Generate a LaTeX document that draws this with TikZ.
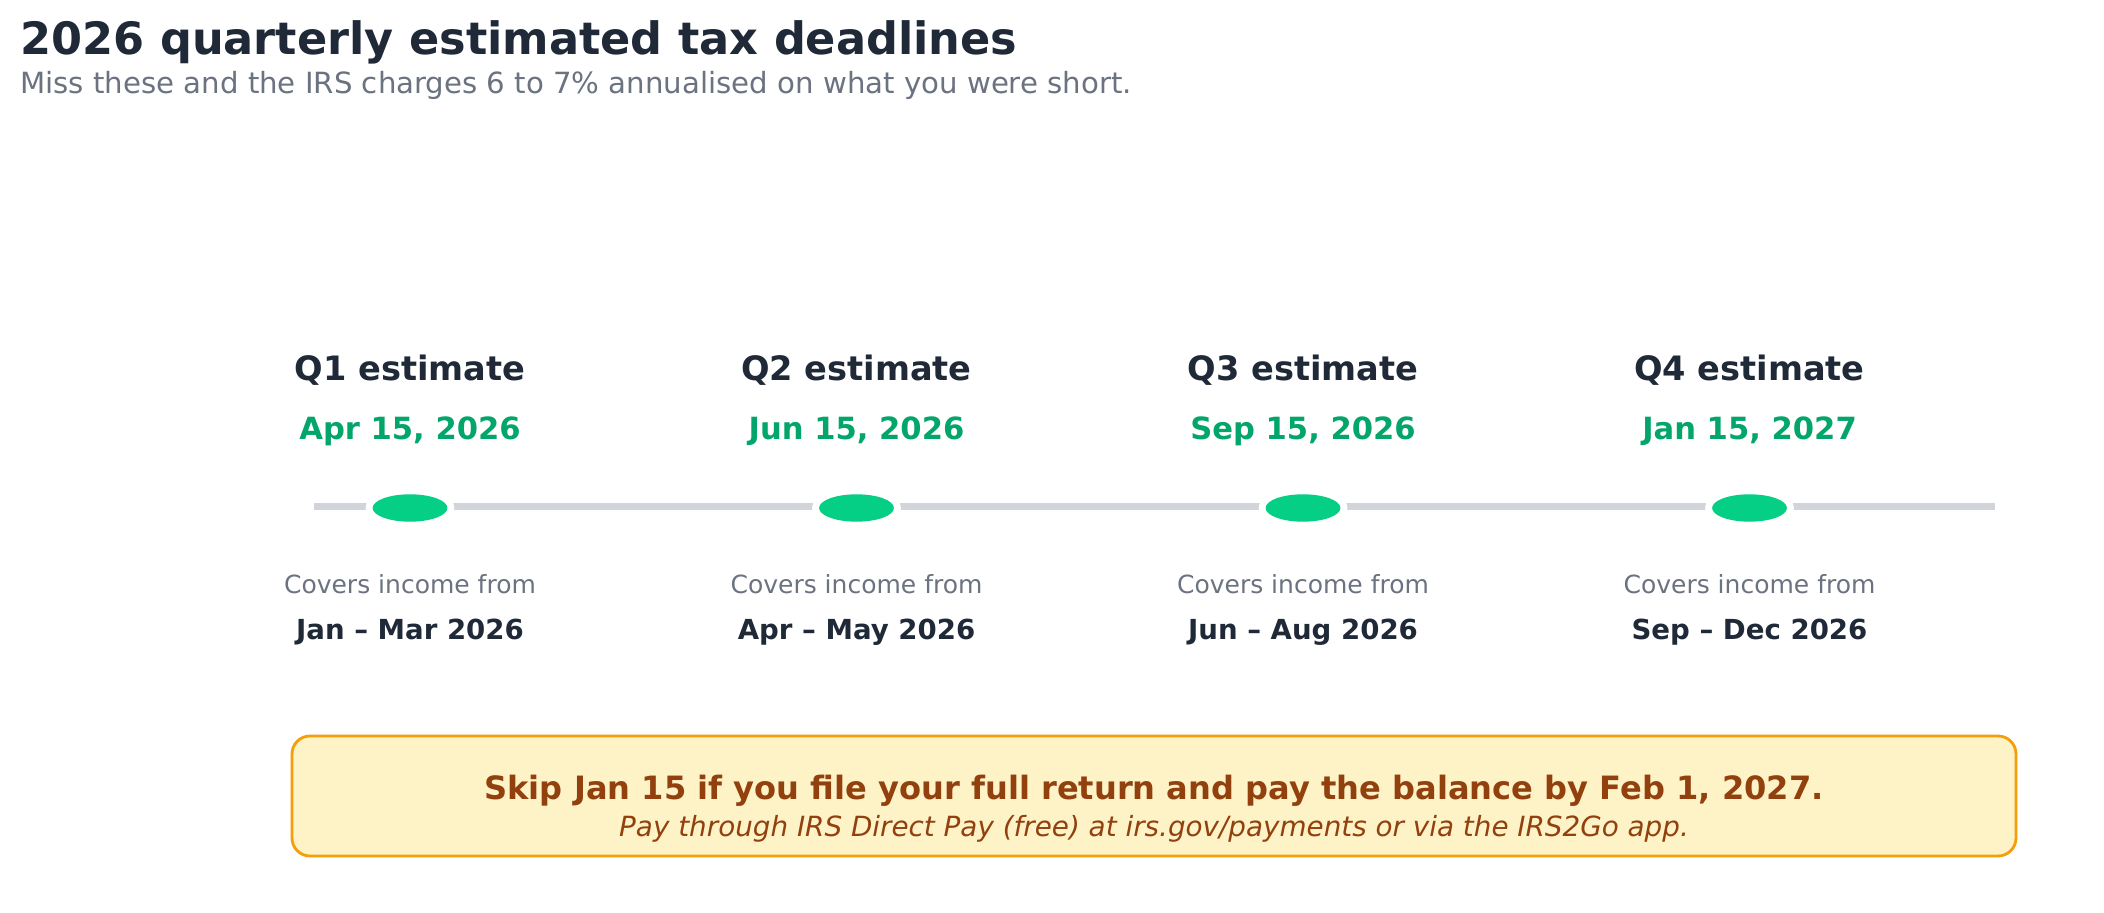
\documentclass[tikz,border=0pt]{standalone}
\usepackage{fontspec}
\setmainfont{DejaVu Sans}
\usetikzlibrary{shapes.geometric}
\definecolor{ink}{HTML}{1F2937}
\definecolor{muted}{HTML}{6B7280}
\definecolor{dot}{HTML}{04CF84}
\definecolor{dategreen}{HTML}{03A66A}
\definecolor{track}{HTML}{D1D5DB}
\definecolor{notefill}{HTML}{FEF3C7}
\definecolor{noteedge}{HTML}{F59E0B}
\definecolor{notetext}{HTML}{92400E}
\tikzset{
  qtitle/.style={anchor=base, text=ink, font=\bfseries\fontsize{16.8}{20}\selectfont, inner sep=0pt},
  qdate/.style={anchor=base, text=dategreen, font=\bfseries\fontsize{15.3}{18}\selectfont, inner sep=0pt},
  qcover/.style={anchor=base, text=muted, font=\fontsize{12.5}{15}\selectfont, inner sep=0pt},
  qrange/.style={anchor=base, text=ink, font=\bfseries\fontsize{13.8}{17}\selectfont, inner sep=0pt},
  trackline/.style={draw=track, line width=3.5pt},
  halo/.style={ellipse, fill=white, minimum width=44.4pt, minimum height=20.7pt, inner sep=0pt},
  marker/.style={ellipse, fill=dot, minimum width=37.4pt, minimum height=13.7pt, inner sep=0pt},
}
\begin{document}
\begin{tikzpicture}[x=0.5pt,y=-0.5pt]
\useasboundingbox[fill=white] (0,0) rectangle (2104,913);
\node[anchor=base west, inner sep=0pt, text=ink, font=\bfseries\fontsize{22.3}{26}\selectfont] (title) at (20,55) {2026 quarterly estimated tax deadlines};
\node[anchor=base west, inner sep=0pt, text=muted, font=\fontsize{14.6}{18}\selectfont] (sub) at (20,94) {Miss these and the IRS charges 6 to 7\% annualised on what you were short.};
% track
\coordinate (tl) at (314,507);
\coordinate (tr) at (1995,507);
\draw[trackline] (tl) -- (tr);
% quarters
\foreach \i/\x/\q/\d/\r in {1/410/Q1 estimate/{Apr 15, 2026}/Jan – Mar 2026,
                            2/856.5/Q2 estimate/{Jun 15, 2026}/Apr – May 2026,
                            3/1303/Q3 estimate/{Sep 15, 2026}/Jun – Aug 2026,
                            4/1749.5/Q4 estimate/{Jan 15, 2027}/Sep – Dec 2026}{
  \node[qtitle] (q\i) at (\x,381) {\q};
  \node[qdate] (d\i) at (\x,440) {\d};
  \node[halo] (h\i) at (\x,508) {};
  \node[marker] (m\i) at (\x,508) {};
  \node[qcover] (c\i) at (\x,594) {Covers income from};
  \node[qrange] (r\i) at (\x,640) {\r};
}
% note box
\draw[fill=notefill, draw=noteedge, line width=1.4pt, rounded corners=9pt] (292,736) rectangle (2016,856);
\node[anchor=base, inner sep=0pt, text=notetext, font=\bfseries\fontsize{16.05}{19}\selectfont] (n1) at (1154,799) {Skip Jan 15 if you file your full return and pay the balance by Feb 1, 2027.};
\node[anchor=base, inner sep=0pt, text=notetext, font=\itshape\fontsize{13.9}{17}\selectfont] (n2) at (1154,836) {Pay through IRS Direct Pay (free) at irs.gov/payments or via the IRS2Go app.};
\end{tikzpicture}
\end{document}
